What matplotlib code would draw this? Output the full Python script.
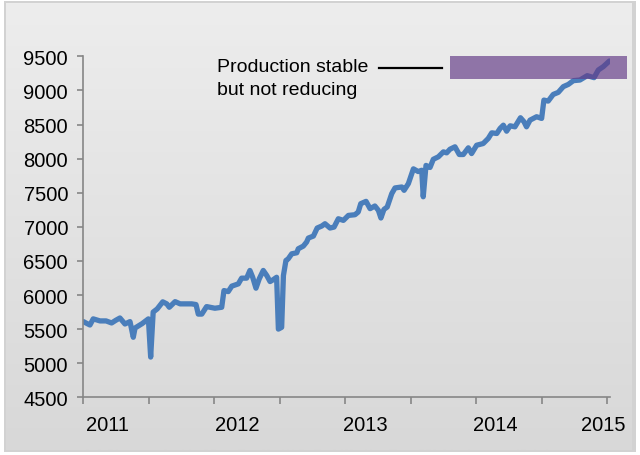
import numpy as np
import matplotlib
matplotlib.use("Agg")
import matplotlib.pyplot as plt
from matplotlib.patches import Rectangle

plt.rcParams['font.family'] = ['Liberation Sans', 'DejaVu Sans']

# week index (0 = start of series) and production value
weeks = [0.0, 1.0, 2.6, 3.9, 6.6, 9.0, 11.2, 12.9, 14.5, 16.5, 18.5, 19.8, 20.5, 23.3,
         25.8, 26.7, 27.7, 29.3, 31.5, 33.1, 34.1, 36.4, 38.4, 43.0, 44.7, 45.6, 47.0,
         48.9, 52.2, 54.9, 55.8, 57.5, 58.9, 61.5, 62.8, 64.8, 66.1, 67.2, 68.5, 69.8,
         71.4, 72.8, 74.1, 75.4, 76.7, 77.4, 78.7, 79.4, 80.4, 81.3, 82.7, 84.7, 85.3,
         87.3, 88.6, 89.3, 91.3, 92.8, 94.6, 95.9, 97.9, 99.5, 101.2, 103.2, 105.2,
         107.8, 109.1, 110.1, 112.2, 113.8, 115.7, 117.1, 118.1, 119.3, 120.6, 122.4,
         123.7, 126.4, 127.3, 129.0, 131.0, 132.9, 134.3, 134.9, 136.0, 137.6, 138.9,
         140.9, 142.9, 144.2, 145.5, 147.5, 149.2, 150.8, 152.8, 154.1, 156.1, 158.7,
         160.7, 162.1, 164.1, 165.4, 166.7, 168.0, 169.4, 171.3, 173.5, 174.9, 175.9,
         177.3, 179.9, 181.9, 182.8, 184.5, 186.5, 188.5, 190.5, 192.5, 194.5, 197.1,
         200.0, 202.7, 204.4, 206.4, 208.8]
production = [5610, 5590, 5560, 5650, 5620, 5620, 5590, 5630, 5663, 5575, 5610, 5380,
              5516, 5580, 5650, 5090, 5750, 5796, 5900, 5870, 5820, 5903, 5870, 5870,
              5860, 5720, 5720, 5830, 5806, 5820, 6065, 6050, 6130, 6163, 6247, 6247,
              6360, 6260, 6100, 6237, 6360, 6285, 6197, 6226, 6260, 5500, 5526, 6285,
              6506, 6530, 6604, 6619, 6678, 6717, 6776, 6835, 6864, 6982, 7011, 7045,
              6982, 6996, 7118, 7094, 7167, 7177, 7217, 7339, 7373, 7266, 7305, 7241,
              7129, 7255, 7290, 7486, 7570, 7584, 7535, 7633, 7850, 7810, 7829, 7440,
              7900, 7870, 7990, 8026, 8099, 8084, 8137, 8173, 8060, 8060, 8158, 8074,
              8196, 8221, 8295, 8378, 8368, 8442, 8490, 8402, 8481, 8466, 8599, 8540,
              8466, 8564, 8614, 8589, 8858, 8843, 8941, 8971, 9055, 9088, 9143, 9152,
              9216, 9187, 9299, 9349, 9431]

year_labels = ['2011', '2012', '2013', '2014', '2015']
year_label_pos = [9.4, 60.9, 112.1, 163.7, 206.5]
half_year_ticks = [0, 26, 52, 78, 104, 130, 156, 182, 208]

fig = plt.figure(figsize=(6.4, 4.56), dpi=100)
fig.patch.set_facecolor('white')

# chart area background: frame + vertical gradient
bg = fig.add_axes([0, 0, 1, 1], zorder=-1)
bg.axis('off')
bg.add_patch(Rectangle((4, 2), 632, 451, facecolor='#d2d2d2', edgecolor='none', zorder=1))
grad = np.linspace(237, 216, 256)[:, None] / 255.0
grad = np.repeat(grad[:, :, None], 3, axis=2)
bg.imshow(grad, extent=(6, 632, 451, 4), aspect='auto', zorder=2)
bg.set_xlim(0, 640)
bg.set_ylim(456, 0)

ax = fig.add_axes([83.4 / 640, (456 - 398.3) / 456, 526.5 / 640, 341.0 / 456])
ax.set_facecolor('none')
ax.plot(weeks, production, color='#4a7ebb', linewidth=3.8,
        solid_joinstyle='round', solid_capstyle='round', zorder=2)

ax.set_xlim(0, 209)
ax.set_ylim(4500, 9500)
ax.set_yticks(range(4500, 9501, 500))
ax.set_xticks(half_year_ticks)
ax.set_xticklabels([])
ax.set_xticks(year_label_pos, minor=True)
ax.set_xticklabels(year_labels, minor=True)

for side in ['top', 'right']:
    ax.spines[side].set_visible(False)
for side in ['left', 'bottom']:
    ax.spines[side].set_color('#868686')
    ax.spines[side].set_linewidth(1.2)

ax.tick_params(axis='y', direction='out', length=4, width=1.2, color='#868686',
               labelsize=14.5, pad=7, labelcolor='black')
ax.tick_params(axis='x', which='major', direction='out', length=5, width=1.2,
               color='#868686')
ax.tick_params(axis='x', which='minor', length=0, labelsize=14.5, pad=13,
               labelcolor='black')

# highlighted region + annotation
ax.add_patch(Rectangle((145.5, 9167), 70.2, 343, facecolor=(0.39, 0.23, 0.53),
                       alpha=0.67, edgecolor='none', clip_on=False, zorder=3))
ax.plot([117.5, 142.5], [9324, 9324], color='black', linewidth=1.6,
        clip_on=False, zorder=3)
ax.text(53.1, 9177, 'Production stable\nbut not reducing', fontsize=14,
        ha='left', va='center', linespacing=1.45, color='black')

fig.savefig('out.png', dpi=100)
